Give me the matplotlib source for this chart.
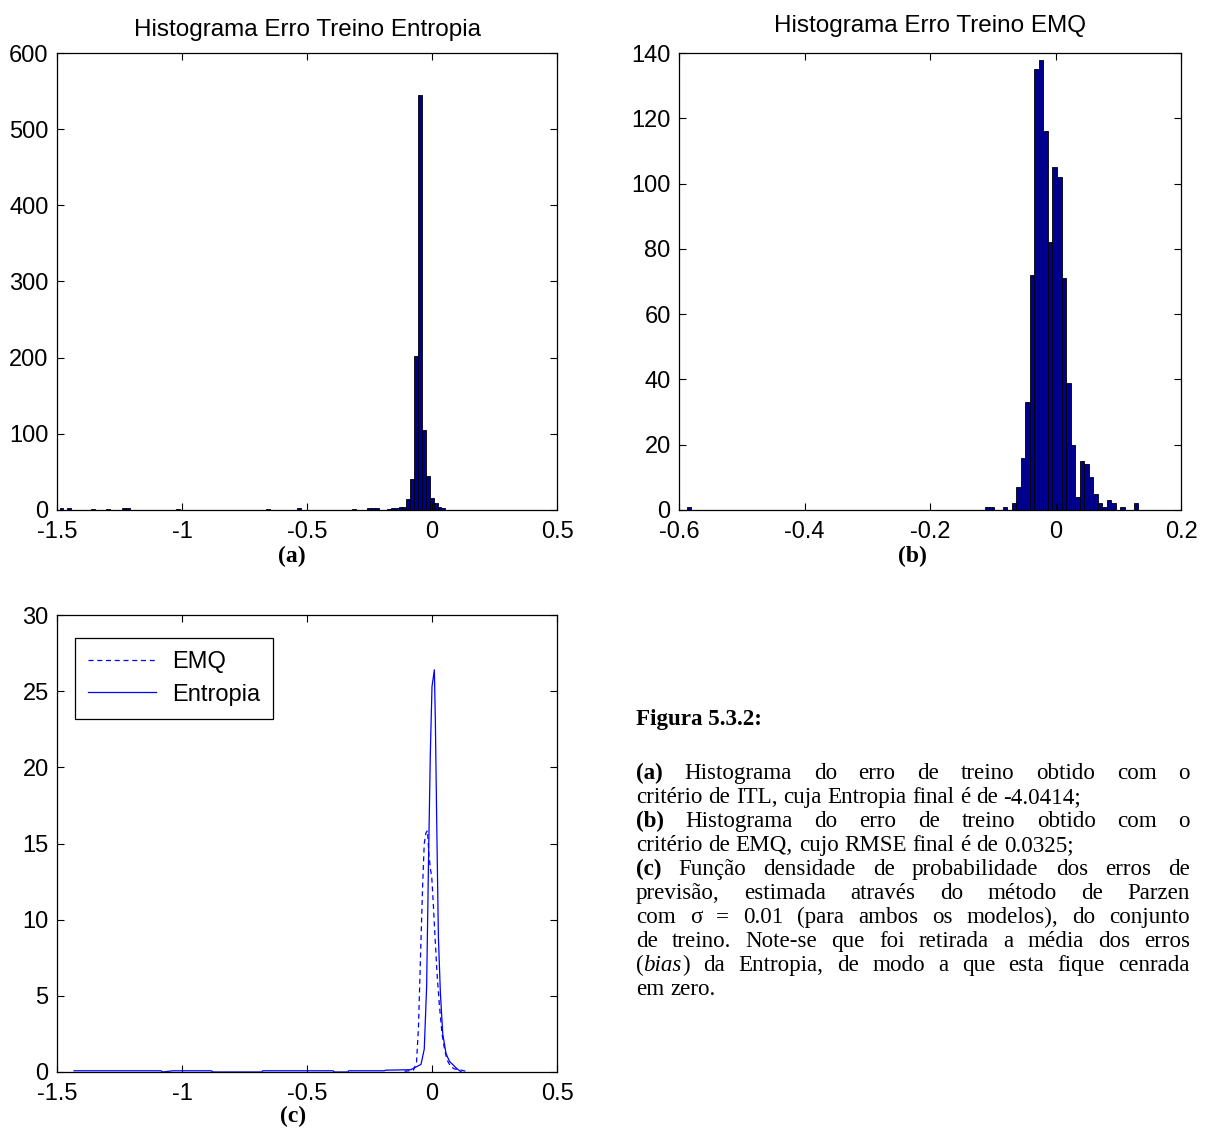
import matplotlib
matplotlib.use('Agg')
import matplotlib.pyplot as plt
from matplotlib.transforms import IdentityTransform

W, H = 1208, 1141
SANS = 'Liberation Sans'
SERIF = 'Liberation Serif'
BAR_FACE = '#000090'
LINE_COLOR = '#0000ff'
TICK_FS = 17
TITLE_FS = 17.5
BODY_FS = 16.6

plt.rcParams['font.family'] = SANS

# (a) training error histogram, ITL criterion: 100 bins between min and max
a_lo, a_hi = -1.4897, 0.0688
a_bins = [0, 2, 8, 12, 16, 17, 30, 53, 61, 75, 79, 80, 81, 84, 85,
          86, 87, 88, 89, 90, 91, 92, 93, 94, 95, 96, 97, 98]
a_counts = [2, 2, 1, 1, 2, 2, 1, 1, 2, 1, 2, 2, 2, 1, 2,
            3, 4, 4, 15, 41, 202, 545, 105, 45, 16, 9, 4, 2]

# (b) training error histogram, MSE criterion
b_lo, b_hi = -0.588, 0.132
b_bins = [0, 66, 67, 70, 72, 73, 74, 75, 76, 77, 78, 79, 80, 81, 82, 83,
          84, 85, 86, 87, 88, 89, 90, 91, 92, 93, 94, 96, 99]
b_counts = [1, 1, 1, 1, 2, 7, 16, 33, 72, 135, 138, 116, 82, 105, 102, 71,
            39, 20, 4, 15, 14, 10, 5, 2, 1, 3, 2, 1, 2]

# (c) Parzen pdf estimates (sigma = 0.01)
ent_x = [-1.432, -1.084, -1.077, -1.037, -0.883, -0.876, -0.681, -0.677,
         -0.396, -0.390, -0.337, -0.333, -0.192, -0.185, -0.085, -0.044,
         -0.031, -0.0215, -0.0134, -0.0067, 0.0, 0.0094, 0.0134, 0.0188,
         0.0255, 0.0335, 0.043, 0.0563, 0.070, 0.097, 0.117]
ent_y = [0.08, 0.08, 0.0, 0.08, 0.08, 0.0, 0.0, 0.08,
         0.08, 0.0, 0.0, 0.08, 0.08, 0.12, 0.15, 0.5,
         1.5, 5.6, 14.4, 20.9, 25.3, 26.4, 23.1, 16.5,
         8.9, 5.2, 2.5, 1.2, 0.7, 0.26, 0.0]
emq_x = [-0.110, -0.075, -0.062, -0.054, -0.047, -0.0376, -0.031, -0.024,
         -0.018, -0.012, -0.006, -0.001, 0.006, 0.012, 0.020, 0.029,
         0.040, 0.050, 0.060, 0.075, 0.090, 0.110, 0.135]
emq_y = [0.05, 0.1, 0.6, 3.0, 7.0, 12.2, 15.0, 15.7,
         15.85, 14.2, 13.3, 12.8, 10.8, 8.9, 6.5, 4.5,
         2.5, 1.5, 0.8, 0.35, 0.2, 0.15, 0.05]

a_xticks = [-1.5, -1, -0.5, 0, 0.5]
b_xticks = [-0.6, -0.4, -0.2, 0, 0.2]


def px_axes(fig, left, top, right, bottom):
    """Add axes from pixel box (origin at top-left)."""
    return fig.add_axes([left / W, 1 - bottom / H, (right - left) / W, (bottom - top) / H])


def style_axes(ax):
    ax.tick_params(direction='in', top=True, right=True, length=5, width=0.8,
                   labelsize=TICK_FS, pad=6)
    ax.tick_params(axis='x', pad=8)
    for sp in ax.spines.values():
        sp.set_linewidth(0.9)


def fmt(v):
    return f'{v:g}'


def draw_hist(ax, lo, hi, bins, counts):
    w = (hi - lo) / 100
    centers = [lo + (i + 0.5) * w for i in bins]
    ax.bar(centers, counts, width=w, color=BAR_FACE, edgecolor='black', linewidth=0.6)


fig = plt.figure(figsize=(W / 100, H / 100), dpi=100)
fig.patch.set_facecolor('white')

ax_a = px_axes(fig, 57, 53, 557, 510)
draw_hist(ax_a, a_lo, a_hi, a_bins, a_counts)
ax_a.set_xlim(-1.5, 0.5)
ax_a.set_ylim(0, 600)
ax_a.set_xticks(a_xticks, [fmt(v) for v in a_xticks])
ax_a.set_yticks(range(0, 601, 100))
ax_a.set_title('Histograma Erro Treino Entropia', fontsize=TITLE_FS, pad=12)
style_axes(ax_a)

ax_b = px_axes(fig, 679, 53, 1181, 510)
draw_hist(ax_b, b_lo, b_hi, b_bins, b_counts)
ax_b.set_xlim(-0.6, 0.2)
ax_b.set_ylim(0, 140)
ax_b.set_xticks(b_xticks, [fmt(v) for v in b_xticks])
ax_b.set_yticks(range(0, 141, 20))
ax_b.set_title('Histograma Erro Treino EMQ', fontsize=TITLE_FS, pad=15)
style_axes(ax_b)

ax_c = px_axes(fig, 57, 615, 557, 1072)
ax_c.plot(emq_x, emq_y, color=LINE_COLOR, linewidth=0.9, dashes=(4, 3), label='EMQ')
ax_c.plot(ent_x, ent_y, color=LINE_COLOR, linewidth=0.9, label='Entropia')
ax_c.set_xlim(-1.5, 0.5)
ax_c.set_ylim(0, 30)
ax_c.set_xticks(a_xticks, [fmt(v) for v in a_xticks])
ax_c.set_yticks(range(0, 31, 5))
style_axes(ax_c)
leg = ax_c.legend(loc='upper left', bbox_to_anchor=((75 - 57) / 500, 1 - (638 - 615) / 457),
                  borderaxespad=0, fancybox=False, edgecolor='black', framealpha=1,
                  fontsize=TICK_FS, handlelength=2.9, handletextpad=0.65,
                  borderpad=0.55, labelspacing=0.45)
leg.get_frame().set_linewidth(0.9)

# panel letters
for txt, cx, cy in [('(a)', 292, 556), ('(b)', 912, 556), ('(c)', 293, 1116)]:
    fig.text(cx / W, 1 - cy / H, txt, fontfamily=SERIF, fontweight='bold',
             fontsize=17, ha='center', va='center')

# caption block, justified like the document text
renderer = fig.canvas.get_renderer()
TEXT_LEFT, TEXT_RIGHT = 636, 1190


def make_text(s, style):
    return fig.text(0, 0, s, fontfamily=SERIF, fontsize=BODY_FS,
                    fontweight='bold' if style == 'b' else 'normal',
                    fontstyle='italic' if style == 'i' else 'normal',
                    transform=IdentityTransform(), va='baseline', ha='left')


def text_width(s, style='n'):
    t = make_text(s, style)
    wdt = t.get_window_extent(renderer).width
    t.remove()
    return wdt


SPACE = text_width('x x') - text_width('xx')


def draw_line(words, y_center, justify):
    base = H - (y_center + 7)
    placed = []
    widths = []
    for word in words:
        arts = [make_text(s, st) for s, st in word]
        ws = [a.get_window_extent(renderer).width for a in arts]
        placed.append((arts, ws))
        widths.append(sum(ws))
    if justify and len(words) > 1:
        gap = (TEXT_RIGHT - TEXT_LEFT - sum(widths)) / (len(words) - 1)
    else:
        gap = SPACE
    x = TEXT_LEFT
    for arts, ws in placed:
        for a, wd in zip(arts, ws):
            a.set_position((x, base))
            x += wd
        x += gap


def plain(s):
    return [[(w, 'n')] for w in s.split()]


lines = [
    ([[('(a)', 'b')]] + plain('Histograma do erro de treino obtido com o'), True),
    (plain('critério de ITL, cuja Entropia final é de -4.0414;'), False),
    ([[('(b)', 'b')]] + plain('Histograma do erro de treino obtido com o'), True),
    (plain('critério de EMQ, cujo RMSE final é de 0.0325;'), False),
    ([[('(c)', 'b')]] + plain('Função densidade de probabilidade dos erros de'), True),
    (plain('previsão, estimada através do método de Parzen'), True),
    (plain('com σ = 0.01 (para ambos os modelos), do conjunto'), True),
    (plain('de treino. Note-se que foi retirada a média dos erros'), True),
    ([[('(', 'n'), ('bias', 'i'), (')', 'n')]]
     + plain('da Entropia, de modo a que esta fique cenrada'), True),
    (plain('em zero.'), False),
]

draw_line([[('Figura 5.3.2:', 'b')]], 718, False)
for k, (words, just) in enumerate(lines):
    draw_line(words, 772 + 24 * k, just)

fig.savefig('out.png', dpi=100, facecolor='white')
